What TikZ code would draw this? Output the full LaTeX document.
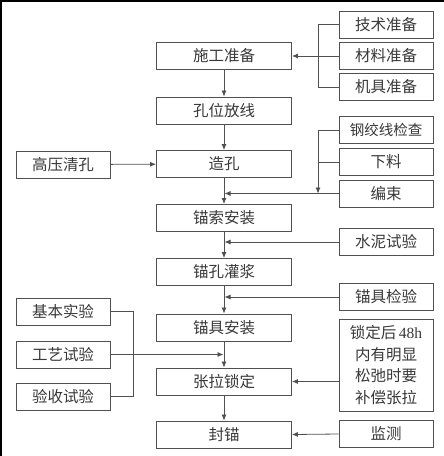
\documentclass[tikz,border=0pt]{standalone}
\usepackage{fontspec}
\setmainfont{Noto Sans CJK SC}
\newfontfamily\latinfont{Liberation Serif}
\usetikzlibrary{arrows.meta}
\definecolor{boxgray}{HTML}{505050}
\definecolor{textgray}{HTML}{383838}

\tikzset{
	box/.style={draw=boxgray, line width=0.9pt, minimum height=27pt, inner sep=0pt,
		text=textgray, font=\fontsize{15.5}{21.5}\selectfont, align=center},
	mainbox/.style={box, minimum width=135pt},
	sidebox/.style={box, minimum width=94pt},
	link/.style={draw=boxgray, line width=0.8pt},
	arr/.style={link, -{Latex[length=6pt,width=5pt]}},
}

\begin{document}
\begin{tikzpicture}[x=1pt, y=-1pt]
			\useasboundingbox (0,0) rectangle (444,456);
			\def\xMain{224}
			\def\xRight{386}
			\def\xLeft{63}

			% frame
			\draw[line width=2pt] (1,456) -- (1,0.5) -- (444,0.5);

			% main column
			\foreach \name/\y/\txt in {shigong/56/施工准备, kongwei/110.5/孔位放线,
				zaokong/164/造孔, maosuo/218/锚索安装, guanjiang/272/锚孔灌浆,
				maoju/327.5/锚具安装, zhangla/381.5/张拉锁定, fengmao/434.5/封锚}
			{
				\node[mainbox] (\name) at (\xMain,\y) {\txt};
			}

			% right column
			\foreach \name/\y/\txt in {jishu/24.5/技术准备, cailiao/56/材料准备,
				jiju/87/机具准备, xialiao/162/下料, bianshu/193.5/编束,
				shuini/242/水泥试验, jianyan/297/锚具检验, jiance/434/监测}
			{
				\node[sidebox] (\name) at (\xRight,\y) {\txt};
			}
			\node[sidebox, font=\fontsize{14.5}{20}\selectfont] (gangjiao) at (\xRight,130) {钢绞线检查};
			\node[sidebox, minimum height=92pt] (suoding) at (\xRight,365)
				{锁定后{\latinfont\,48h}\\内有明显\\松弛时要\\补偿张拉};

			% left column
			\foreach \name/\y/\txt in {gaoya/164.5/高压清孔, jiben/311.5/基本实验,
				gongyi/354.5/工艺试验, yanshou/396.5/验收试验}
			{
				\node[sidebox] (\name) at (\xLeft,\y) {\txt};
			}

			\coordinate (bkRight) at (318,0);
			\coordinate (bkLeft) at (133,0);

			% main flow
			\begin{scope}[arr]
				\draw (shigong) -- (kongwei);
				\draw (kongwei) -- (zaokong);
				\draw (zaokong) -- (maosuo);
				\draw (maosuo) -- (guanjiang);
				\draw (guanjiang) -- (maoju);
				\draw (maoju) -- (zhangla);
				\draw (zhangla) -- (fengmao);
			\end{scope}

			% side inputs
			\draw[link] (jishu.west) -| (bkRight |- jiju.west) -- (jiju.west);
			\draw[arr] (cailiao.west) -- (shigong.east);
			\draw[arr] (gaoya) -- (zaokong);
			\draw[link] (gangjiao.west) -- (gangjiao.west -| bkRight);
			\draw[link] (xialiao.west) -- (xialiao.west -| bkRight);
			\draw[arr] (gangjiao.west -| bkRight) -- (bianshu.west -| bkRight);
			\draw[arr] (bianshu.west) -- ([xshift=0.5pt]bianshu.west -| zaokong.south);
			\draw[arr] (shuini.west) -- ([xshift=0.5pt]shuini.west -| maosuo.south);
			\draw[arr] (jianyan.west) -- ([xshift=0.5pt]jianyan.west -| guanjiang.south);
			\draw[link] (jiben.east) -| (bkLeft |- yanshou.east) -- (yanshou.east);
			\draw[arr] (gongyi.east) -- ([xshift=-0.5pt]gongyi.east -| maoju.south);
			\draw[arr] (suoding.west |- zhangla.east) -- (zhangla.east);
			\draw[arr] (jiance.west) -- (fengmao.east);
		\end{tikzpicture}
\end{document}
